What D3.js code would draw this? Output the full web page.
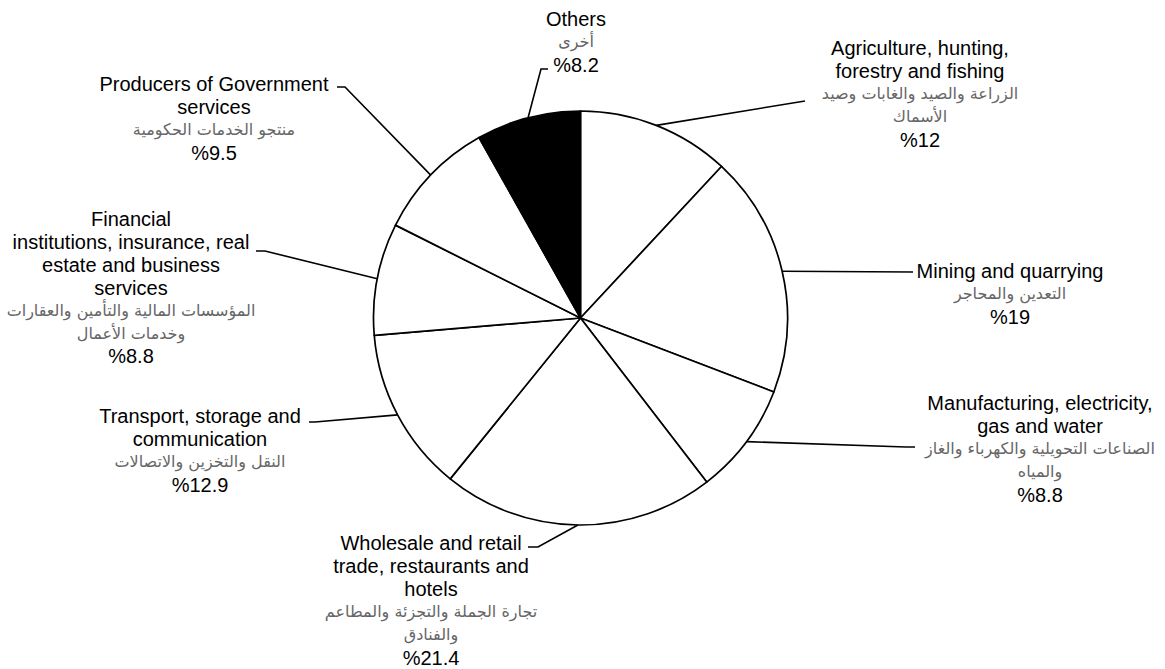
<!DOCTYPE html>
<html><head><meta charset="utf-8">
<script src="https://cdn.jsdelivr.net/npm/d3@7"></script>
<style>
html,body{margin:0;padding:0;background:#fff;}
svg{display:block;}
</style></head>
<body><svg id="chart" width="1165" height="669"></svg>
<script>
// ---- data ----
const categories = [
  "Agriculture, hunting, forestry and fishing",
  "Mining and quarrying",
  "Manufacturing, electricity, gas and water",
  "Wholesale and retail trade, restaurants and hotels",
  "Transport, storage and communication",
  "Financial institutions, insurance, real estate and business services",
  "Producers of Government services",
  "Others"
];
const values = [12, 19, 8.8, 21.4, 12.9, 8.8, 9.5, 8.2];
const englishLines = [
  ["Agriculture, hunting,", "forestry and fishing"],
  ["Mining and quarrying"],
  ["Manufacturing, electricity,", "gas and water"],
  ["Wholesale and retail", "trade, restaurants and", "hotels"],
  ["Transport, storage and", "communication"],
  ["Financial", "institutions, insurance, real", "estate and business", "services"],
  ["Producers of Government", "services"],
  ["Others"]
];
const arabicLines = [
  ["الزراعة والصيد والغابات وصيد", "الأسماك"],
  ["التعدين والمحاجر"],
  ["الصناعات التحويلية والكهرباء والغاز", "والمياه"],
  ["تجارة الجملة والتجزئة والمطاعم", "والفنادق"],
  ["النقل والتخزين والاتصالات"],
  ["المؤسسات المالية والتأمين والعقارات", "وخدمات الأعمال"],
  ["منتجو الخدمات الحكومية"],
  ["أخرى"]
];
const highlight = "Others";

// ---- layout (label anchors and leader elbows) ----
const labelLayout = [
  {x: 920, y: 48,  elbow: [805, 101], tick: 805},
  {x: 1010, y: 271, elbow: [913, 272], tick: 913},
  {x: 1040, y: 403, elbow: [906, 447], tick: 915},
  {x: 431, y: 543, elbow: [538, 547], tick: 528},
  {x: 200, y: 416, elbow: [315, 422], tick: 309},
  {x: 131, y: 219, elbow: [265, 251], tick: 256},
  {x: 214, y: 84,  elbow: [345, 87],  tick: 337},
  {x: 576, y: 19,  elbow: [541, 69],  tick: 548}
];
const cx = 580.5, cy = 318, R = 207, lineH = 22.9;

const svg = d3.select("#chart");
const g = svg.append("g").attr("transform", `translate(${cx},${cy})`);

const pie = d3.pie().sort(null).value(d => d.value).startAngle(0).endAngle(2 * Math.PI);
const data = pie(categories.map((c, i) => ({cat: c, value: values[i], i})));
const arc = d3.arc().innerRadius(0).outerRadius(R);
const edge = d3.arc().innerRadius(R).outerRadius(R);

g.selectAll("path.slice").data(data).join("path")
  .attr("class", "slice")
  .attr("d", arc)
  .attr("fill", d => d.data.cat === highlight ? "#000" : "#fff")
  .attr("stroke", "#000")
  .attr("stroke-width", 1.7)
  .attr("stroke-linejoin", "round");

// leader lines
const lines = svg.append("g");
data.forEach(d => {
  const L = labelLayout[d.data.i];
  const p = edge.centroid(d);
  const pts = [[cx + p[0], cy + p[1]], L.elbow, [L.tick, L.elbow[1]]];
  lines.append("path")
    .attr("d", d3.line()(pts))
    .attr("fill", "none")
    .attr("stroke", "#000")
    .attr("stroke-width", 1.6);
});

// labels
const fmt = v => "%" + d3.format("~g")(v);
const labels = svg.append("g");
data.forEach(d => {
  const i = d.data.i, L = labelLayout[i];
  let row = 0;
  const t = labels.append("g");
  englishLines[i].forEach(s => {
    t.append("text").attr("x", L.x).attr("y", L.y + lineH * row++)
      .attr("text-anchor", "middle").attr("dominant-baseline", "central")
      .attr("font-family", "'Liberation Sans', Arial, sans-serif").attr("font-size", 20)
      .attr("fill", "#000").text(s);
  });
  arabicLines[i].forEach(s => {
    t.append("text").attr("x", L.x).attr("y", L.y + lineH * row++)
      .attr("text-anchor", "middle").attr("dominant-baseline", "central")
      .attr("direction", "rtl")
      .attr("font-family", "'DejaVu Sans', sans-serif").attr("font-size", 16)
      .attr("fill", "#666").text(s);
  });
  t.append("text").attr("x", L.x).attr("y", L.y + lineH * row++)
    .attr("text-anchor", "middle").attr("dominant-baseline", "central")
    .attr("font-family", "'Liberation Sans', Arial, sans-serif").attr("font-size", 20)
    .attr("fill", "#000").text(fmt(values[i]));
});
</script>
</body></html>
